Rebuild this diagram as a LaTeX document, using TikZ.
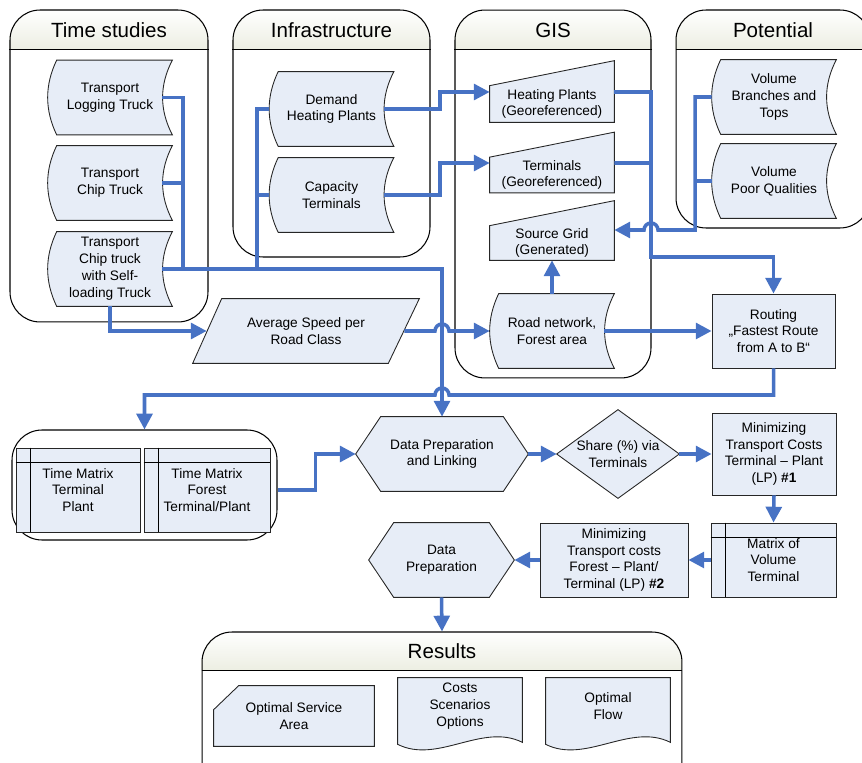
\documentclass[tikz,border=0pt]{standalone}
\usepackage{fontspec}
\setmainfont{Liberation Sans}
\usetikzlibrary{arrows.meta}
\pgfdeclarelayer{background}
\pgfsetlayers{background,main}

\definecolor{boxfill}{RGB}{231,237,247}
\definecolor{flowblue}{RGB}{71,114,196}
\definecolor{headfill}{RGB}{236,238,226}

\tikzset{
	txt/.style={font=\fontsize{7.8}{9.6}\selectfont, align=center, inner sep=0pt},
	title/.style={font=\fontsize{11.7}{14}\selectfont, inner sep=0pt},
	grp/.style={draw, line width=0.6pt, rounded corners=0.6cm, inner sep=0pt},
	shp/.style={fill=boxfill, draw=black!85, line width=0.5pt},
	rectbox/.style={txt, shp},
	link/.style={draw=flowblue, line width=2pt},
	flow/.style={link, -{Triangle[length=9pt,width=9pt]}}
}

% outlines drawn behind the text of a node
\newcommand\storedshape[1]{\filldraw[shp] ([xshift=0.18cm]#1.north west) -- (#1.north east) .. controls +(-13,25) and +(-13,-25) .. (#1.south east) -- ([xshift=0.18cm]#1.south west) .. controls +(-12,-25) and +(-12,25) .. ([xshift=0.18cm]#1.north west) -- cycle;}
\newcommand\manualshape[1]{\filldraw[shp] (#1.south west) -- (#1.north west) -- ([yshift=0.5cm]#1.north east) -- (#1.south east) -- cycle;}
\newcommand\hexshape[1]{\filldraw[shp] ([xshift=0.5cm]#1.north west) -- ([xshift=-0.5cm]#1.north east) -- (#1.east) -- ([xshift=-0.5cm]#1.south east) -- ([xshift=0.5cm]#1.south west) -- (#1.west) -- cycle;}
\newcommand\diamondshape[1]{\filldraw[shp] (#1.north) -- (#1.east) -- (#1.south) -- (#1.west) -- cycle;}
\newcommand\slantshape[1]{\filldraw[shp] ([xshift=0.58cm]#1.north west) -- (#1.north east) -- ([xshift=-0.62cm]#1.south east) -- (#1.south west) -- cycle;}
\newcommand\cardshape[1]{\filldraw[shp] ([xshift=0.5cm]#1.north west) -- (#1.north east) -- (#1.south east) -- (#1.south west) -- ([yshift=-0.48cm]#1.north west) -- cycle;}
\newcommand\docshape[1]{\filldraw[shp] (#1.north west) -- (#1.north east) -- ([yshift=-0.16cm]#1.south east) .. controls +(-40,-20) and +(40,20) .. ([yshift=-0.2cm]#1.south west) -- cycle;}
\newcommand\tablelines[1]{\draw[line width=0.5pt] ([yshift=-0.3cm]#1.north west) -- ([yshift=-0.3cm]#1.north east);
	\draw[line width=0.5pt] ([xshift=0.3cm]#1.north west) -- ([xshift=0.3cm]#1.south west);}
\newcommand\headband[2]{%
	\begin{scope}
		\clip[rounded corners=0.6cm] (#1.north west) rectangle (#1.south east);
		\shade[top color=white, bottom color=headfill] (#1.north west) rectangle ([yshift=-#2]#1.north east);
	\end{scope}
	\draw[line width=0.6pt] ([yshift=-#2]#1.north west) -- ([yshift=-#2]#1.north east);}

\begin{document}
\begin{tikzpicture}[x=0.02cm, y=-0.02cm]
			\useasboundingbox (0,0) rectangle (862,763);

			% groups
			\node[grp, minimum width=3.96cm, minimum height=6.24cm] (tsgrp) at (109,166) {};
			\node[grp, minimum width=3.94cm, minimum height=4.94cm] (infgrp) at (331.5,133.5) {};
			\node[grp, minimum width=3.92cm, minimum height=7.36cm] (gisgrp) at (553,194) {};
			\node[grp, minimum width=3.88cm, minimum height=4.36cm] (potgrp) at (773,119) {};
			\node[grp, minimum width=9.6cm, minimum height=3.6cm] (resgrp) at (442,722) {};
			\node[grp, minimum width=5.3cm, minimum height=2.2cm] (tmgrp) at (144.5,485) {};

			\node[title] (tstitle) at (109,30) {Time studies};
			\node[title] (inftitle) at (331.5,30) {Infrastructure};
			\node[title] (gistitle) at (553,30) {GIS};
			\node[title] (pottitle) at (773,30) {Potential};
			\node[title] (restitle) at (442,651) {Results};

			% time studies
			\node[txt, minimum width=2.48cm, minimum height=1.48cm] (ts1) at (110,97.5) {Transport\\Logging Truck};
			\node[txt, minimum width=2.48cm, minimum height=1.48cm] (ts2) at (110,183) {Transport\\Chip Truck};
			\node[txt, minimum width=2.48cm, minimum height=1.48cm] (ts3) at (110,269) {Transport\\Chip truck\\with Self-\\loading Truck};

			% infrastructure
			\node[txt, minimum width=2.48cm, minimum height=1.48cm] (dhp) at (331.5,109) {Demand\\Heating Plants};
			\node[txt, minimum width=2.48cm, minimum height=1.48cm] (ctm) at (331.5,195) {Capacity\\Terminals};

			% gis
			\node[txt, minimum width=2.48cm, minimum height=0.72cm] (hp) at (552,104) {Heating Plants\\(Georeferenced)};
			\node[txt, minimum width=2.48cm, minimum height=0.7cm] (tm) at (552,175) {Terminals\\(Georeferenced)};
			\node[txt, minimum width=2.48cm, minimum height=0.68cm] (sg) at (552,243) {Source Grid\\(Generated)};
			\node[txt, minimum width=2.48cm, minimum height=1.48cm] (rn) at (552,331) {Road network,\\Forest area};

			% potential
			\node[txt, minimum width=2.48cm, minimum height=1.48cm] (vbt) at (774,97) {Volume\\Branches and\\Tops};
			\node[txt, minimum width=2.48cm, minimum height=1.48cm] (vpq) at (774,181) {Volume\\Poor Qualities};

			\node[txt, minimum width=4.52cm, minimum height=1.28cm] (asp) at (306,331) {Average Speed per\\Road Class};
			\node[rectbox, minimum width=2.46cm, minimum height=1.48cm] (rt) at (773.5,331) {Routing\\„Fastest Route\\from A to B“};

			\node[rectbox, minimum width=2.48cm, minimum height=1.68cm] (tmtp) at (78,490) {Time Matrix\\Terminal\\Plant};
			\node[rectbox, minimum width=2.52cm, minimum height=1.68cm] (tmft) at (207,490) {Time Matrix\\Forest\\Terminal/Plant};

			\node[txt, minimum width=3.44cm, minimum height=1.48cm] (dpl) at (442,454) {Data Preparation\\and Linking};
			\node[txt, minimum width=2.44cm, minimum height=1.76cm] (sh) at (618,454) {Share (\%) via\\Terminals};
			\node[rectbox, minimum width=2.48cm, minimum height=1.64cm] (lp1) at (774,454) {Minimizing\\Transport Costs\\Terminal -- Plant\\(LP) \textbf{\#1}};
			\node[rectbox, minimum width=2.5cm, minimum height=1.48cm] (mvt) at (773.5,560) {Matrix of\\Volume\\Terminal};
			\node[rectbox, minimum width=2.96cm, minimum height=1.48cm] (lp2) at (614,560) {Minimizing\\Transport costs\\Forest -- Plant/\\Terminal (LP) \textbf{\#2}};
			\node[txt, minimum width=2.9cm, minimum height=1.48cm] (dp) at (441.5,560) {Data\\Preparation};

			% results
			\node[txt, minimum width=3.2cm, minimum height=1.2cm] (osa) at (294,716) {Optimal Service\\Area};
			\node[txt, minimum width=2.48cm, minimum height=1.12cm] (csc) at (460,706) {Costs\\Scenarios\\Options};
			\node[txt, minimum width=2.48cm, minimum height=1.12cm] (of) at (608,706) {Optimal\\Flow};

			\tablelines{tmtp}
			\tablelines{tmft}
			\tablelines{mvt}

			\begin{pgfonlayer}{background}
				\headband{tsgrp}{0.8cm}
				\headband{infgrp}{0.8cm}
				\headband{gisgrp}{0.8cm}
				\headband{potgrp}{0.8cm}
				\headband{resgrp}{0.78cm}
				\storedshape{ts1} \storedshape{ts2} \storedshape{ts3}
				\storedshape{dhp} \storedshape{ctm}
				\storedshape{rn} \storedshape{vbt} \storedshape{vpq}
				\manualshape{hp} \manualshape{tm} \manualshape{sg}
				\slantshape{asp}
				\hexshape{dpl} \hexshape{dp}
				\diamondshape{sh}
				\cardshape{osa}
				\docshape{csc} \docshape{of}
			\end{pgfonlayer}

			% connectors
			\draw[link] ([xshift=-0.2cm]ts1.east) -| (183,269);
			\draw[link] ([xshift=-0.2cm]ts2.east) -- (183,183);
			\draw[link] (dhp.west) -| (257,269);
			\draw[link] (ctm.west) -- (257,195);
			\draw[flow] ([xshift=-0.2cm]ts3.east) -| (dpl.north);

			\draw[flow] (ts3.south) |- ([xshift=0.28cm]asp.west);
			\draw[flow] ([xshift=-0.3cm]asp.east) -- (435,331) arc[start angle=180, end angle=0, radius=0.14cm] -- (rn.west);

			\draw[flow] ([xshift=-0.2cm]dhp.east) -- (440,109) |- ([yshift=0.24cm]hp.west);
			\draw[flow] ([xshift=-0.2cm]ctm.east) -- (440,195) |- ([yshift=0.24cm]tm.west);

			\draw[flow] ([yshift=0.24cm]hp.east) -| (651,257) -| (rt.north);
			\draw[link] ([yshift=0.24cm]tm.east) -- (651,163);

			\draw[link] (vpq.west) -- (695,181);
			\draw[flow] (vbt.west) -| (695,230) -- (658,230) arc[start angle=0, end angle=180, radius=0.14cm] -- ([yshift=0.26cm]sg.east);

			\draw[flow] (rn.north) -- (sg.south);
			\draw[flow] ([xshift=-0.2cm]rn.east) -- (rt.west);

			\draw[flow] (rt.south) |- (449,395) arc[start angle=0, end angle=180, radius=0.14cm] -| (tmgrp.north);
			\draw[flow] ([yshift=-0.1cm]tmgrp.east) -- ++(38,0) |- (dpl.west);

			\draw[flow] (dpl.east) -- (sh.west);
			\draw[flow] (sh.east) -- (lp1.west);
			\draw[flow] (lp1.south) -- (mvt.north);
			\draw[flow] (mvt.west) -- (lp2.east);
			\draw[flow] (lp2.west) -- (dp.east);
			\draw[flow] (dp.south) -- (resgrp.north);
		\end{tikzpicture}
\end{document}
